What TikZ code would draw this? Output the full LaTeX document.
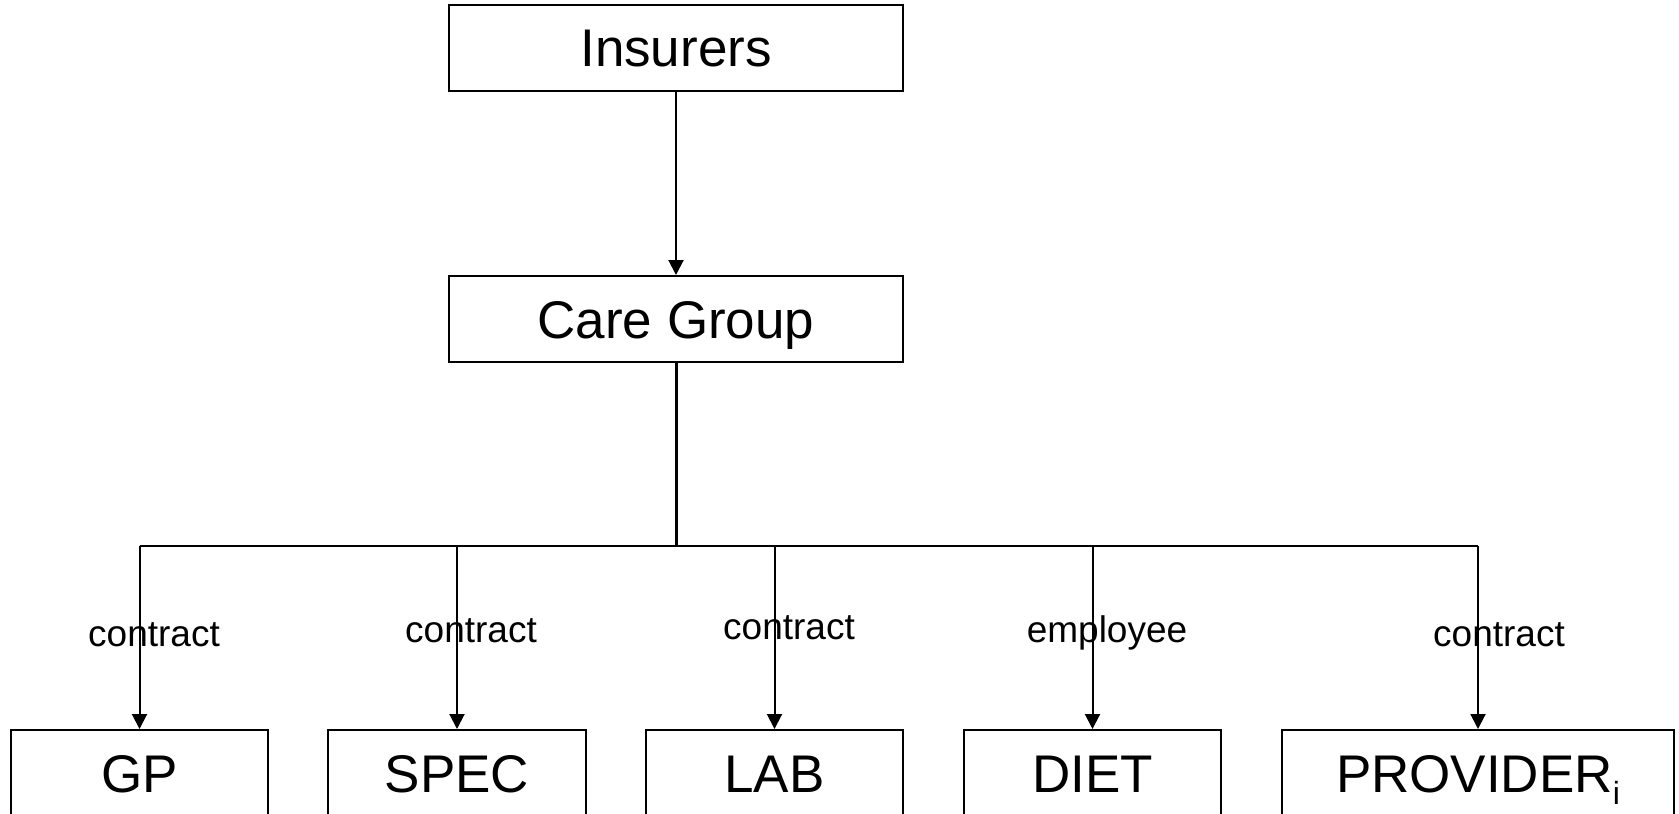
\documentclass[tikz,border=0pt]{standalone}
\usepackage{fontspec}
\setmainfont{Liberation Sans}
\usetikzlibrary{arrows.meta}
\begin{document}
\begin{tikzpicture}[x=1pt,y=-1pt,
  box/.style={draw,line width=2pt,inner sep=0pt,minimum height=86pt,
    text height=38pt,text depth=0pt,font=\fontsize{53}{60}\selectfont},
  conn/.style={line width=2pt},
  arr/.style={line width=2pt,-{Triangle[length=15pt,width=15pt]}},
  lbl/.style={anchor=base,inner sep=0pt,font=\fontsize{37}{42}\selectfont}]
\useasboundingbox (0,0) rectangle (1679,814);
\node[box,minimum width=454pt] (ins) at (676,47.5) {Insurers};
\node[box,minimum width=454pt] (cg) at (676,319) {Care Group};
\node[box,minimum width=257pt] (gp) at (139.5,773) {GP};
\node[box,minimum width=258pt] (spec) at (457,773) {SPEC};
\node[box,minimum width=257pt] (lab) at (774.5,773) {LAB};
\node[box,minimum width=257pt] (diet) at (1092.5,773) {DIET};
\node[box,minimum width=392pt] (prov) at (1478,773) {PROVIDER\raisebox{-12pt}{\fontsize{32}{32}\selectfont i}};
\coordinate (bus) at (676,546);
\draw[arr] (ins) -- (cg);
\draw[line width=3pt] (cg.south) -- (bus);
\draw[conn] (gp.north |- bus) -- (prov.north |- bus);
\draw[arr] (gp.north |- bus) -- (gp.north);
\draw[arr] (spec.north |- bus) -- (spec.north);
\draw[arr] (lab.north |- bus) -- (lab.north);
\draw[arr] (diet.north |- bus) -- (diet.north);
\draw[arr] (prov.north |- bus) -- (prov.north);
\node[lbl] (l1) at (154,646) {contract};
\node[lbl] (l2) at (471,642) {contract};
\node[lbl] (l3) at (789,639) {contract};
\node[lbl] (l4) at (1107,642) {employee};
\node[lbl] (l5) at (1499,646) {contract};
\end{tikzpicture}
\end{document}
